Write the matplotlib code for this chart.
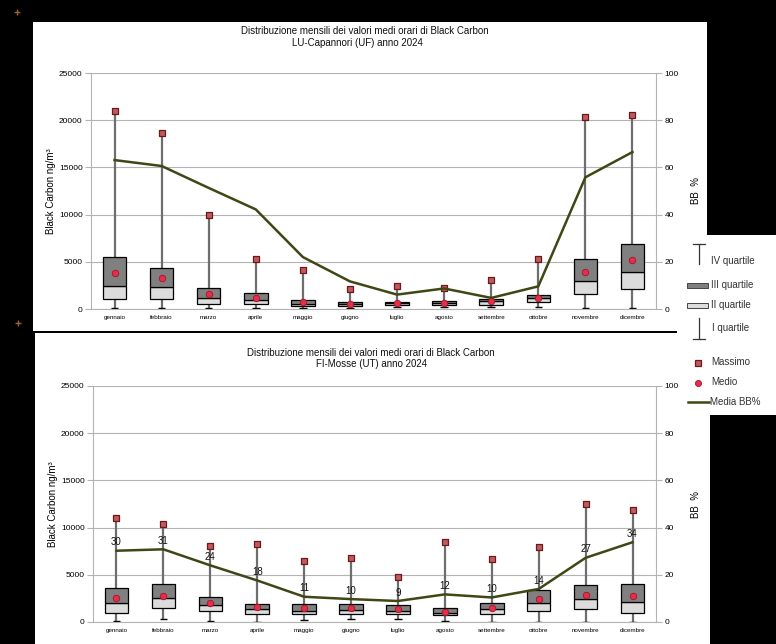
import numpy as np
import matplotlib
matplotlib.use("Agg")
import matplotlib.pyplot as plt
from matplotlib.patches import Rectangle
from matplotlib.lines import Line2D

plt.rcParams['font.family'] = ['Liberation Sans', 'DejaVu Sans']

months = ["gennaio", "febbraio", "marzo", "aprile", "maggio", "giugno",
          "luglio", "agosto", "settembre", "ottobre", "novembre", "dicembre"]

# Panel 1: LU-Capannori (UF)
lu_min = [80, 100, 80, 100, 60, 100, 250, 250, 250, 200, 60, 60]
lu_q1 = [1060, 1060, 560, 560, 320, 320, 380, 420, 380, 740, 1620, 2150]
lu_med = [2440, 2330, 1165, 985, 560, 490, 635, 630, 800, 1130, 2960, 3880]
lu_q3 = [5500, 4340, 2180, 1650, 910, 770, 770, 850, 1090, 1480, 5250, 6920]
lu_max = [21000, 18600, 10000, 5300, 4160, 2080, 2390, 2220, 3100, 5250, 20300, 20550]
lu_mean = [3800, 3280, 1620, 1200, 770, 560, 600, 600, 850, 1200, 3880, 5190]
lu_bb = [63.1, 60.6, 51.3, 42.2, 22.0, 11.7, 6.1, 8.7, 4.7, 9.6, 55.8, 66.5]

# Panel 2: FI-Mosse (UT)
fi_min = [100, 280, 100, 50, 210, 280, 350, 100, 50, 50, 50, 50]
fi_q1 = [990, 1450, 1165, 880, 810, 810, 850, 740, 850, 1165, 1340, 990]
fi_med = [1980, 2510, 1770, 1340, 1200, 1270, 1165, 990, 1340, 2050, 2400, 2090]
fi_q3 = [3570, 3990, 2680, 1900, 1940, 1940, 1800, 1450, 1980, 3390, 3890, 3990]
fi_max = [11050, 10420, 8050, 8230, 6500, 6740, 4800, 8470, 6640, 7910, 12470, 11830]
fi_mean = [2580, 2790, 1980, 1550, 1520, 1520, 1340, 1100, 1520, 2400, 2860, 2750]
fi_bb = [30.2, 30.8, 24.0, 17.6, 10.7, 9.7, 8.9, 11.7, 10.4, 14.0, 27.2, 33.8]

W, H = 776, 644
fig = plt.figure(figsize=(W / 100, H / 100), dpi=100, facecolor='black')


def fx(px):
    return px / W


def fy(py):
    return 1 - py / H


def white_rect(x0, y0, x1, y1):
    r = Rectangle((fx(x0), fy(y1)), (x1 - x0) / W, (y1 - y0) / H,
                  transform=fig.transFigure, facecolor='white',
                  edgecolor='none', zorder=-10)
    fig.add_artist(r)


white_rect(33, 22, 707, 331)
white_rect(35, 333, 710, 644)
white_rect(677, 235, 776, 415)

GRID = '#b3b3b3'
LINE = '#3f4714'
DARK = '#808080'
LIGHT = '#dcdcdc'
WHISK = '#6e6e6e'


def panel(rect, mins, q1, med, q3, mx, mean, bb, labels=False):
    ax = fig.add_axes(rect)
    ax.set_facecolor('none')
    x = np.arange(len(months))
    q1a, meda, q3a = np.array(q1), np.array(med), np.array(q3)
    ax.vlines(x, mins, q1, color=WHISK, lw=1.6, zorder=2)
    ax.vlines(x, q3, mx, color=WHISK, lw=1.6, zorder=2)
    ax.hlines(mins, x - 0.08, x + 0.08, color='black', lw=1.0, zorder=2)
    ax.bar(x, meda - q1a, bottom=q1a, width=0.5, color=LIGHT,
           edgecolor='black', lw=0.9, zorder=3)
    ax.bar(x, q3a - meda, bottom=meda, width=0.5, color=DARK,
           edgecolor='black', lw=0.9, zorder=3)
    ax.scatter(x, mx, marker='s', s=20, facecolor='#c05a60',
               edgecolor='#6b1a1a', lw=0.9, zorder=5)
    ax.scatter(x, mean, marker='o', s=22, facecolor='#e33049',
               edgecolor='#a8102c', lw=0.6, zorder=5)
    ax.set_xlim(-0.5, len(months) - 0.5)
    ax.set_ylim(0, 25000)
    ax.set_yticks(range(0, 25001, 5000))
    ax.set_xticks(x)
    ax.set_xticklabels(months, fontsize=4.5)
    ax.tick_params(axis='x', length=0, pad=4)
    ax.tick_params(axis='y', length=4, color=GRID, labelsize=6, pad=2)
    ax.yaxis.grid(True, color=GRID, lw=0.8)
    ax.set_axisbelow(True)
    for s in ['top', 'right']:
        ax.spines[s].set_visible(False)
    for s in ['left', 'bottom']:
        ax.spines[s].set_color(GRID)
    ax.set_ylabel('Black Carbon ng/m³', fontsize=7, labelpad=2)

    ax2 = ax.twinx()
    ax2.plot(x, bb, color=LINE, lw=1.8, zorder=4)
    ax2.set_ylim(0, 100)
    ax2.set_yticks(range(0, 101, 20))
    ax2.tick_params(axis='y', length=4, color=GRID, labelsize=6, pad=2)
    for s in ['top', 'left', 'bottom']:
        ax2.spines[s].set_visible(False)
    ax2.spines['right'].set_color(GRID)
    ax2.set_ylabel('BB  %', fontsize=7, labelpad=9)
    if labels:
        for xi, v in zip(x, bb):
            ax2.annotate(f"{v:.0f}", (xi, v), xytext=(0, 6),
                         textcoords='offset points', ha='center',
                         va='center', fontsize=7, color='#111111', zorder=6)
    return ax, ax2


panel([fx(91), fy(309), 565 / W, 236 / H], lu_min, lu_q1, lu_med, lu_q3,
      lu_max, lu_mean, lu_bb)
panel([fx(93), fy(622), 563 / W, 236 / H], fi_min, fi_q1, fi_med, fi_q3,
      fi_max, fi_mean, fi_bb, labels=True)

tkw = dict(fontsize=7, ha='center', va='center', color='#111111')
fig.text(fx(365), fy(31), 'Distribuzione mensili dei valori medi orari di Black Carbon', **tkw)
fig.text(fx(357), fy(43), 'LU-Capannori (UF) anno 2024', **tkw)
fig.text(fx(371), fy(353), 'Distribuzione mensili dei valori medi orari di Black Carbon', **tkw)
fig.text(fx(372), fy(364), 'FI-Mosse (UT) anno 2024', **tkw)

# Legend (drawn manually in figure pixels)
lkw = dict(fontsize=7, ha='left', va='center', color='#333333')
T = fig.transFigure
# IV quartile
fig.add_artist(Line2D([fx(699), fx(699)], [fy(244), fy(264)], color='#333333', lw=0.9, transform=T))
fig.add_artist(Line2D([fx(693), fx(705)], [fy(244), fy(244)], color='#333333', lw=0.9, transform=T))
fig.text(fx(711), fy(261), 'IV quartile', **lkw)
# III quartile
fig.add_artist(Rectangle((fx(687), fy(288)), 21 / W, 5 / H, facecolor=DARK,
                         edgecolor='#444444', lw=0.7, transform=T))
fig.text(fx(711), fy(285), 'III quartile', **lkw)
# II quartile
fig.add_artist(Rectangle((fx(687), fy(308)), 21 / W, 5 / H, facecolor=LIGHT,
                         edgecolor='#444444', lw=0.7, transform=T))
fig.text(fx(711), fy(305), 'II quartile', **lkw)
# I quartile
fig.add_artist(Line2D([fx(699), fx(699)], [fy(318), fy(339)], color='#333333', lw=0.9, transform=T))
fig.add_artist(Line2D([fx(693), fx(705)], [fy(339), fy(339)], color='#333333', lw=0.9, transform=T))
fig.text(fx(712), fy(328), 'I quartile', **lkw)
# Massimo
fig.add_artist(Line2D([fx(698)], [fy(363)], marker='s', markersize=4.2,
                      markerfacecolor='#c05a60', markeredgecolor='#6b1a1a',
                      markeredgewidth=0.9, linestyle='none', transform=T))
fig.text(fx(711), fy(362), 'Massimo', **lkw)
# Medio
fig.add_artist(Line2D([fx(698)], [fy(383)], marker='o', markersize=4.4,
                      markerfacecolor='#e33049', markeredgecolor='#a8102c',
                      markeredgewidth=0.6, linestyle='none', transform=T))
fig.text(fx(711), fy(382), 'Medio', **lkw)
# Media BB%
fig.add_artist(Line2D([fx(688), fx(709)], [fy(402), fy(402)], color=LINE, lw=1.8, transform=T))
fig.text(fx(710), fy(402), 'Media BB%', **lkw)

# small anchor marks at left
fig.add_artist(Line2D([fx(17), fx(18)], [fy(12), fy(323)], marker='+', markersize=4,
                      color='#a06030', linestyle='none', transform=T))

fig.savefig('out.png', dpi=100, facecolor='black')
